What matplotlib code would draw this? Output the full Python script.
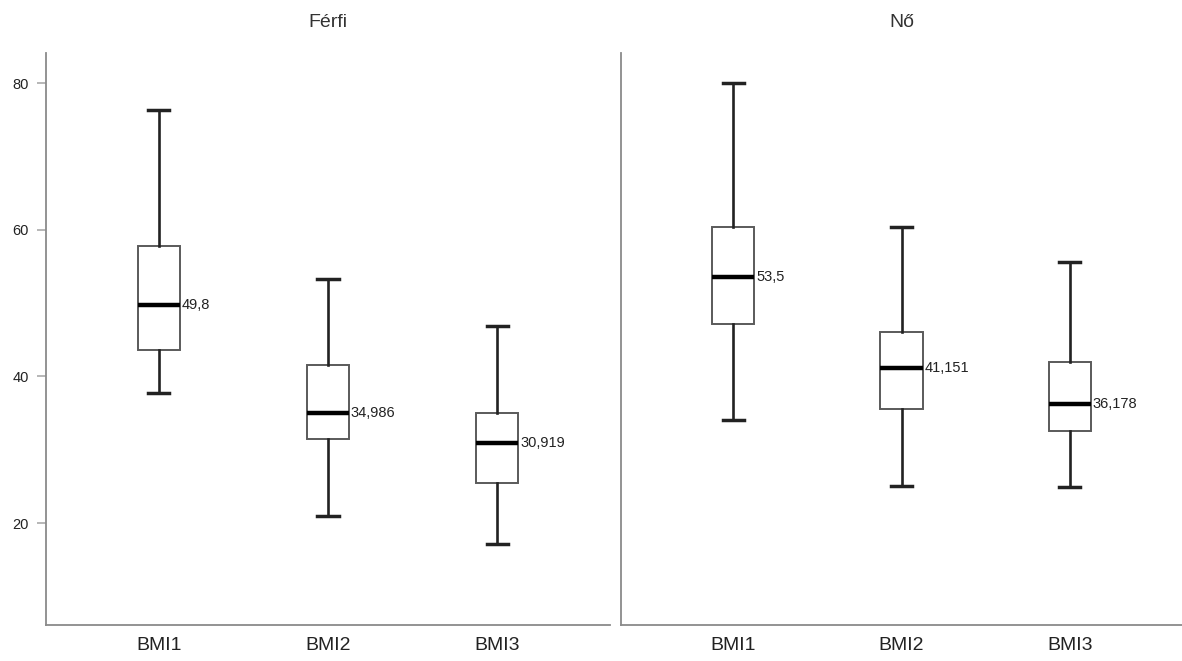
import matplotlib
matplotlib.use("Agg")
import matplotlib.pyplot as plt

plt.rcParams['font.family'] = ['Liberation Sans', 'DejaVu Sans']

groups = ["Férfi", "Nő"]
categories = ["BMI1", "BMI2", "BMI3"]

# per group: whisker low, Q1, median, Q3, whisker high
ferfi_whislo = [37.7, 21.0, 17.2]
ferfi_q1 = [43.6, 31.4, 25.5]
ferfi_med = [49.8, 34.986, 30.919]
ferfi_q3 = [57.8, 41.6, 35.0]
ferfi_whishi = [76.3, 53.3, 46.9]
ferfi_labels = ["49,8", "34,986", "30,919"]

no_whislo = [34.0, 25.0, 24.9]
no_q1 = [47.2, 35.6, 32.6]
no_med = [53.5, 41.151, 36.178]
no_q3 = [60.4, 46.1, 42.0]
no_whishi = [80.0, 60.4, 55.6]
no_labels = ["53,5", "41,151", "36,178"]

yticks = [20, 40, 60, 80]

data = [
    (ferfi_whislo, ferfi_q1, ferfi_med, ferfi_q3, ferfi_whishi, ferfi_labels),
    (no_whislo, no_q1, no_med, no_q3, no_whishi, no_labels),
]

fig = plt.figure(figsize=(11.82, 6.61), dpi=100)
axes = [fig.add_axes([0.0389, 0.0545, 0.4772, 0.8653]),
        fig.add_axes([0.5254, 0.0545, 0.4746, 0.8653])]

spine_col = "#8a8a8a"
box_w = 0.25
for ax, title, (lo, q1, med, q3, hi, labs) in zip(axes, groups, data):
    stats = []
    for i, c in enumerate(categories):
        stats.append(dict(whislo=lo[i], q1=q1[i], med=med[i], q3=q3[i],
                          whishi=hi[i], label=c, fliers=[]))
    pos = list(range(len(categories)))
    ax.bxp(stats, positions=pos, widths=box_w, showfliers=False,
           patch_artist=True,
           boxprops=dict(facecolor="white", edgecolor="#5a5a5a", linewidth=1.4),
           whiskerprops=dict(color="#222222", linewidth=1.9),
           capprops=dict(color="#222222", linewidth=2.5),
           medianprops=dict(color="#000000", linewidth=3.2, solid_capstyle="butt"))
    for i, lab in enumerate(labs):
        ax.text(pos[i] + box_w / 2 + 0.01, med[i], lab, ha="left", va="center",
                fontsize=10.5, color="#222222")
    ax.set_xlim(-0.667, 2.667)
    ax.set_ylim(6.1, 84.1)
    ax.set_title(title, fontsize=14, color="#333333", pad=19)
    for s in ["top", "right"]:
        ax.spines[s].set_visible(False)
    for s in ["left", "bottom"]:
        ax.spines[s].set_color(spine_col)
        ax.spines[s].set_linewidth(1.3)
    ax.set_xticks(pos)
    ax.set_xticklabels(categories, fontsize=14, color="#222222")
    ax.tick_params(axis="x", length=0, pad=9)

axes[0].set_yticks(yticks)
axes[0].set_yticklabels([str(v) for v in yticks], fontsize=10.5, color="#222222")
axes[0].tick_params(axis="y", length=6.5, width=1.2, color="#aaaaaa", pad=6)
axes[1].set_yticks([])

fig.savefig("out.png", dpi=100, facecolor="white")
